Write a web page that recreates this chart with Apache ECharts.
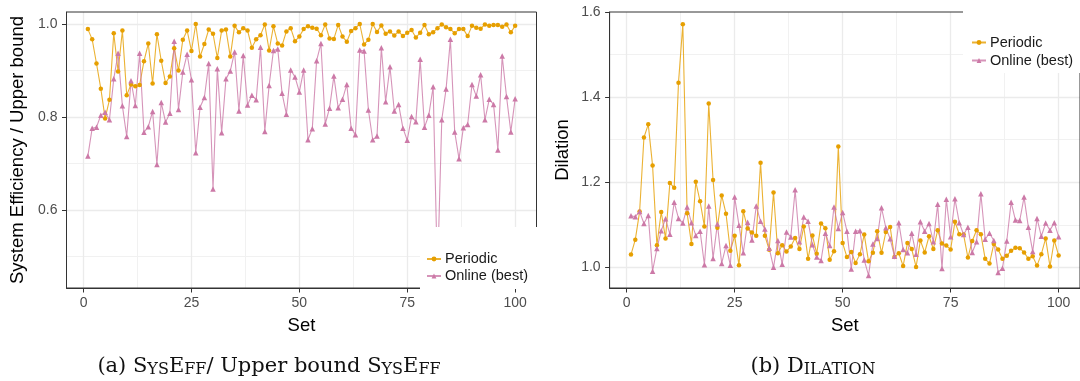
<!DOCTYPE html>
<html><head><meta charset="utf-8">
<script src="https://cdn.jsdelivr.net/npm/echarts@6/dist/echarts.min.js"></script>
<style>html,body{margin:0;padding:0;background:#fff}#c{width:1080px;height:381px}</style>
</head><body><div id="c"></div>
<script>
const sets = [1,2,3,4,5,6,7,8,9,10,11,12,13,14,15,16,17,18,19,20,21,22,23,24,25,26,27,28,29,30,31,32,33,34,35,36,37,38,39,40,41,42,43,44,45,46,47,48,49,50,51,52,53,54,55,56,57,58,59,60,61,62,63,64,65,66,67,68,69,70,71,72,73,74,75,76,77,78,79,80,81,82,83,84,85,86,87,88,89,90,91,92,93,94,95,96,97,98,99,100];

const effPeriodic = [0.989,0.967,0.915,0.861,0.797,0.837,0.980,0.898,0.986,0.847,
  0.870,0.866,0.869,0.920,0.958,0.872,0.978,0.921,0.873,0.887,
  0.948,0.900,0.966,0.986,0.942,1.000,0.930,0.957,0.988,0.979,
  0.927,0.986,0.988,0.930,0.996,0.982,0.991,0.986,0.949,0.967,
  0.976,0.999,0.943,0.995,0.958,0.954,0.984,0.991,0.963,0.973,
  0.989,0.995,0.992,0.990,0.976,0.999,0.969,0.968,0.998,0.973,
  0.962,0.985,0.991,1.000,0.956,0.966,1.000,0.983,0.997,0.979,
  0.984,0.975,0.984,0.974,0.981,0.987,0.971,0.981,0.998,0.978,
  0.982,0.991,0.999,0.993,0.989,0.980,0.989,0.989,0.974,0.996,
  0.992,0.990,0.999,0.996,0.998,0.998,0.994,0.999,0.982,0.996];

const effOnline = [0.716,0.776,0.778,0.804,0.810,0.794,0.882,0.937,0.824,0.758,
  0.878,0.825,0.937,0.767,0.779,0.812,0.698,0.831,0.789,0.808,
  0.963,0.816,0.897,0.935,0.880,0.723,0.821,0.842,0.915,0.645,
  0.904,0.766,0.882,0.899,0.940,0.813,0.932,0.826,0.847,0.837,
  0.950,0.769,0.868,0.943,0.946,0.851,0.806,0.901,0.886,0.854,
  0.901,0.751,0.775,0.921,0.958,0.785,0.819,0.888,0.820,0.838,
  0.870,0.776,0.762,0.944,0.942,0.815,0.751,0.759,0.949,0.833,
  0.908,0.813,0.827,0.776,0.750,0.801,0.790,0.924,0.778,0.804,
  0.865,0.459,0.794,0.860,0.967,0.768,0.710,0.777,0.784,0.870,
  0.845,0.891,0.794,0.838,0.827,0.729,0.931,0.844,0.768,0.839];

const dilPeriodic = [1.030,1.065,1.131,1.305,1.336,1.239,1.052,1.130,1.068,1.198,
  1.187,1.434,1.571,1.127,1.055,1.201,1.155,1.096,1.385,1.205,
  1.093,1.169,1.126,1.039,1.074,1.005,1.132,1.091,1.082,1.074,
  1.246,1.074,1.041,1.176,1.033,1.052,1.037,1.049,1.069,1.043,
  1.096,1.020,1.075,1.032,1.103,1.092,1.018,1.038,1.284,1.057,
  1.024,1.036,1.010,1.031,1.077,1.014,1.034,1.085,1.034,1.083,
  1.095,1.024,1.033,1.003,1.057,1.043,1.001,1.063,1.035,1.073,
  1.043,1.087,1.056,1.051,1.042,1.107,1.078,1.077,1.023,1.062,
  1.087,1.078,1.020,1.009,1.055,1.042,1.020,1.027,1.039,1.046,
  1.045,1.035,1.020,1.026,1.004,1.031,1.068,1.002,1.063,1.028];

const dilOnline = [1.121,1.119,1.131,1.103,1.122,0.991,1.044,1.086,1.114,1.078,
  1.153,1.115,1.104,1.142,1.105,1.075,1.085,1.006,1.144,1.021,
  1.102,1.009,1.051,1.005,1.165,1.099,1.034,1.106,1.064,1.144,
  1.108,1.090,1.045,1.000,1.063,1.007,1.083,1.071,1.182,1.060,
  1.118,1.108,1.053,1.024,1.016,1.080,1.051,1.142,1.091,1.129,
  1.085,0.996,1.085,1.086,1.017,0.981,1.055,1.068,1.140,1.093,
  1.067,1.026,1.105,1.042,1.034,1.080,1.031,1.107,1.085,1.103,
  1.060,1.148,0.997,1.160,1.072,1.161,1.105,1.077,1.094,1.035,
  1.060,1.173,1.066,1.080,1.063,0.988,0.998,1.062,1.153,1.111,
  1.110,1.165,1.094,1.037,1.115,1.073,1.104,1.087,1.105,1.072];

const xTicks = [0, 25, 50, 75, 100];
const xMinor = [12.5, 37.5, 62.5, 87.5];
const yTicksA = [0.6, 0.8, 1.0];
const yMinorA = [0.5, 0.7, 0.9];
const yTicksB = [1.0, 1.2, 1.4, 1.6];
const yMinorB = [1.1, 1.3, 1.5];
const seriesNames = ['Periodic', 'Online (best)'];

const ORANGE = '#E69F00', PINK = '#CC79A7';
const SANS = 'Liberation Sans';
const SERIF = 'DejaVu Serif';

function pairs(arr){ return sets.map((s,i)=>[s, arr[i]]); }

function gridLines(xMaj, xMin, yMaj, yMin){
  const maj = {color:'#ebebeb', width:1.3, type:'solid'};
  const min = {color:'#f1f1f1', width:1, type:'solid'};
  return [].concat(
    xMin.map(v=>({xAxis:v, lineStyle:min})),
    yMin.map(v=>({yAxis:v, lineStyle:min})),
    xMaj.map(v=>({xAxis:v, lineStyle:maj})),
    yMaj.map(v=>({yAxis:v, lineStyle:maj}))
  );
}

function xAxisCfg(gi){
  return {
    gridIndex: gi, type:'value', min:-3.95, max:104.95, z:3,
    axisLine:{show:true, onZero:false, lineStyle:{color:'#333', width:1}},
    axisTick:{show:true, length:4.5, customValues:xTicks, lineStyle:{color:'#333'}},
    axisLabel:{customValues:xTicks, color:'#4d4d4d', fontSize:14, fontFamily:SANS, margin:8},
    splitLine:{show:false},
    name:'Set', nameLocation:'middle', nameGap:28,
    nameTextStyle:{fontSize:18.5, color:'#000', fontFamily:SANS}
  };
}
function yAxisCfg(gi, min, max, ticks, name, gap){
  return {
    gridIndex: gi, type:'value', min:min, max:max, z:3,
    axisLine:{show:true, onZero:false, lineStyle:{color:'#333', width:1}},
    axisTick:{show:true, length:4.5, customValues:ticks, lineStyle:{color:'#333'}},
    axisLabel:{customValues:ticks, color:'#4d4d4d', fontSize:14, fontFamily:SANS, margin:9,
      formatter:v=>Number(v).toFixed(1)},
    splitLine:{show:false},
    name:name, nameLocation:'middle', nameGap:gap,
    nameTextStyle:{fontSize:18.5, color:'#000', fontFamily:SANS}
  };
}

function lineSeries(name, data, gi, color, sym, size, ml){
  const s = {
    name:name, type:'line', xAxisIndex:gi, yAxisIndex:gi, data:data,
    symbol:sym, symbolSize:size, showSymbol:true, z:2,
    itemStyle:{color:color},
    lineStyle:{color:color, width:1.1, opacity:0.8},
    emphasis:{disabled:true}
  };
  if (ml) s.markLine = {silent:true, symbol:'none', z:1, animation:false,
    label:{show:false}, emphasis:{disabled:true}, data:ml};
  return s;
}

function legendCfg(left, top, gap){
  return {
    data: seriesNames, orient:'vertical', left:left, top:top, z:20,
    itemWidth:14, itemHeight:6, itemGap:gap, padding:0,
    textStyle:{fontSize:14.5, color:'#1a1a1a', fontFamily:SANS, padding:[0,0,0,-1]},
    selectedMode:false
  };
}

const chart = echarts.init(document.getElementById('c'), null, {renderer:'canvas'});
chart.setOption({
  animation:false,
  backgroundColor:'#fff',
  grid:[
    {left:66.5, top:12, width:470, height:276, show:true, borderColor:'#333', borderWidth:1, z:3, containLabel:false},
    {left:609.6, top:12, width:471, height:276, show:true, borderColor:'#333', borderWidth:1, z:3, containLabel:false}
  ],
  xAxis:[xAxisCfg(0), xAxisCfg(1)],
  yAxis:[
    yAxisCfg(0, 0.4323, 1.0258, yTicksA, 'System Efficiency / Upper bound', 39.5),
    yAxisCfg(1, 0.9514, 1.6, yTicksB, 'Dilation', 37.5)
  ],
  legend:[legendCfg(426, 251.5, 2), legendCfg(971, 35, 3)],
  series:[
    lineSeries('Periodic', pairs(effPeriodic), 0, ORANGE, 'circle', 4.5, gridLines(xTicks, xMinor, yTicksA, yMinorA)),
    lineSeries('Online (best)', pairs(effOnline), 0, PINK, 'triangle', 5.5),
    lineSeries('Periodic', pairs(dilPeriodic), 1, ORANGE, 'circle', 4.5, gridLines(xTicks, xMinor, [1.0,1.2,1.4], yMinorB)),
    lineSeries('Online (best)', pairs(dilOnline), 1, PINK, 'triangle', 5.5)
  ],
  graphic:[
    {type:'rect', z:10, silent:true, shape:{x:420, y:227, width:125, height:62}, style:{fill:'#fff'}},
    {type:'rect', z:10, silent:true, shape:{x:963, y:0, width:120, height:73}, style:{fill:'#fff'}},
    {type:'text', z:10, silent:true, x:269, y:367,
      style:{
        text:'{c|(a) S}{s|YS}{c|E}{s|FF}{c|/ Upper bound S}{s|YS}{c|E}{s|FF}',
        align:'center', verticalAlign:'middle', textAlign:'center', textVerticalAlign:'middle',
        rich:{
          c:{fontFamily:SERIF, fontSize:21, lineHeight:21, verticalAlign:'bottom', fill:'#111'},
          s:{fontFamily:SERIF, fontSize:16, lineHeight:16, verticalAlign:'bottom', fill:'#111'}
        }
      }},
    {type:'text', z:10, silent:true, x:813, y:367,
      style:{
        text:'{c|(b) D}{s|ILATION}',
        align:'center', verticalAlign:'middle', textAlign:'center', textVerticalAlign:'middle',
        rich:{
          c:{fontFamily:SERIF, fontSize:21, lineHeight:21, verticalAlign:'bottom', fill:'#111'},
          s:{fontFamily:SERIF, fontSize:16, lineHeight:16, verticalAlign:'bottom', fill:'#111'}
        }
      }}
  ]
});
</script>
</body></html>
